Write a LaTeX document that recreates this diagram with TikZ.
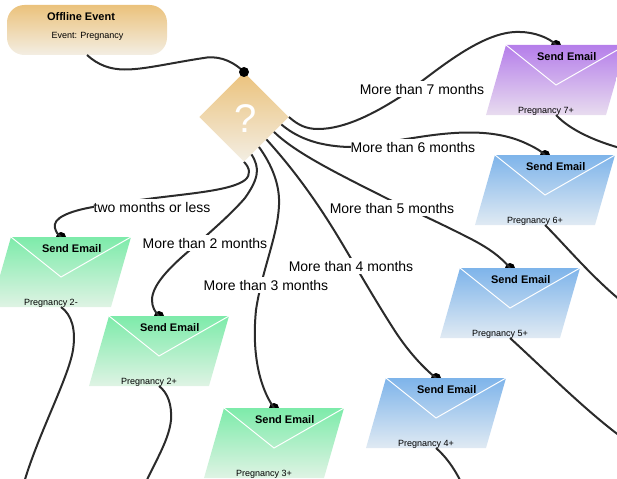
\documentclass[tikz,border=0pt]{standalone}
\usepackage{fontspec}
\setmainfont{Liberation Sans}
\usetikzlibrary{shapes.geometric,calc}
\definecolor{lineC}{HTML}{2B2B2B}
\definecolor{orT}{HTML}{EBC27C}
\definecolor{orB}{HTML}{F3EEE3}
\definecolor{grT}{HTML}{7DEBAA}
\definecolor{grB}{HTML}{DFF3E4}
\definecolor{blT}{HTML}{7EB4EA}
\definecolor{blB}{HTML}{E0EAF3}
\definecolor{puT}{HTML}{B57EEA}
\definecolor{puB}{HTML}{E8DCEF}
\tikzset{
  conn/.style={draw=lineC,line width=1.5pt},
  portdot/.style={circle,fill=black,inner sep=0pt,minimum size=7.5pt},
  grenv/.style={top color=grT,bottom color=grB},
  blenv/.style={top color=blT,bottom color=blB},
  puenv/.style={top color=puT,bottom color=puB},
  titletext/.style={font=\bfseries\fontsize{8.25pt}{10pt}\selectfont,inner sep=0pt},
  smalltext/.style={font=\fontsize{6.75pt}{8pt}\selectfont,inner sep=0pt},
  edgelabel/.style={fill=white,font=\fontsize{10.5pt}{12pt}\selectfont,inner sep=0pt,minimum height=12.5pt,text depth=0pt}
}
\newcommand{\mailport}[3]{\node[portdot] (#1in) at (#2+50,#3) {};}
\newcommand{\mailbody}[5]{%
  \begin{scope}[shift={(#2,#3)}]
    \path[#4] (0,0) -- (120,0) -- (100,70) -- (-20,70) -- cycle;
    \draw[white,line width=0.75pt] (0,0) -- (50,40) -- (120,0);
    \node[titletext] (#1t) at (60.7,12) {Send Email};
    \node[smalltext] (#1l) at (40,66) {#5};
    \coordinate (#1out) at (50,70);
  \end{scope}}
\begin{document}
\begin{tikzpicture}[x=0.75pt,y=-0.75pt]
\useasboundingbox (0,0) rectangle (617,478);
\clip (0,0) rectangle (617,478);
% start
\node[minimum width=120pt,minimum height=37.5pt,rounded corners=13pt,top color=orT,bottom color=orB,inner sep=0pt] (start) at (87,30) {};
\node[titletext] (startt) at (81,17) {Offline Event};
\node[smalltext] (startl) at (87.5,36) {Event: Pregnancy};
\coordinate (startout) at (87,55);
% diamond
\node[diamond,aspect=1,minimum width=67pt,minimum height=67pt,inner sep=0pt,top color=orT,bottom color=orB] (dmd) at (244,117) {};
\node[text=white,font=\fontsize{30pt}{30pt}\selectfont,inner sep=0pt] (qm) at (246,119) {?};
\coordinate (x7) at (dmd.east);
\coordinate (x6) at ($(dmd.east)!0.167!(dmd.south)$);
\coordinate (x5) at ($(dmd.east)!0.333!(dmd.south)$);
\coordinate (x4) at ($(dmd.east)!0.5!(dmd.south)$);
\coordinate (x3) at ($(dmd.east)!0.667!(dmd.south)$);
\coordinate (x2) at ($(dmd.east)!0.833!(dmd.south)$);
\coordinate (x1) at (dmd.south);
\coordinate (dmdin) at (244,72);
% ports first, bodies cover their lower half
\mailport{a}{11}{237}
\mailport{b}{109}{316}
\mailport{c}{224}{408}
\mailport{d}{386}{378}
\mailport{e}{460}{268}
\mailport{f}{495}{155}
\mailport{g}{506}{45}
% connectors in
\draw[conn] (startout) .. controls (98,65) and (110,69.5) .. (125,69.5) .. controls (145,69.5) and (170,63) .. (207,57.5) .. controls (222,56) and (235,63) .. (dmdin);
\draw[conn] (x7) .. controls (298,125) and (306,129) .. (318,129) .. controls (345,129) and (375,113) .. (400,97) .. controls (430,77) and (480,30) .. (520,32) .. controls (534,32) and (550,38) .. (gin.center);
\draw[conn] (x6) .. controls (295,136) and (315,146) .. (349,147) .. controls (370,147) and (390,141) .. (413,138) .. controls (450,132) and (490,128) .. (523,142) .. controls (532,146) and (540,150) .. (fin.center);
\draw[conn] (x5) .. controls (295,152) and (330,170) .. (390,200) .. controls (420,214) and (450,228) .. (473,240) .. controls (488,248) and (500,256) .. (ein.center);
\draw[conn] (x4) .. controls (285,160) and (310,190) .. (340,240) .. controls (355,265) and (375,300) .. (393,328) .. controls (405,347) and (420,365) .. (din.center);
\draw[conn] (x3) .. controls (272,165) and (280,185) .. (279,205) .. controls (278,235) and (262,270) .. (256,310) .. controls (252,350) and (258,385) .. (cin.center);
\draw[conn] (x2) .. controls (260,168) and (259,178) .. (245,198) .. controls (232,213) and (215,228) .. (190,250) .. controls (170,267) and (152,285) .. (152,300) .. controls (152,307) and (155,312) .. (bin.center);
\draw[conn] (x1) .. controls (250,168) and (251,175) .. (245,180) .. controls (232,190) and (195,193) .. (155,198) .. controls (125,202) and (93,206) .. (93,207) .. controls (70,211) and (52,218) .. (55,228) .. controls (56,232) and (58,235) .. (ain.center);
% bodies
\mailbody{a}{11}{237}{grenv}{Pregnancy 2-}
\mailbody{b}{109}{316}{grenv}{Pregnancy 2+}
\mailbody{c}{224}{408}{grenv}{Pregnancy 3+}
\mailbody{d}{386}{378}{blenv}{Pregnancy 4+}
\mailbody{e}{460}{268}{blenv}{Pregnancy 5+}
\mailbody{f}{495}{155}{blenv}{Pregnancy 6+}
\mailbody{g}{506}{45}{puenv}{Pregnancy 7+}
\node[portdot] (dmddot) at (dmdin) {};
% connectors out, ending beyond the page
\coordinate (aend) at (22,490);
\coordinate (bend) at (146,482);
\coordinate (dend) at (461,482);
\coordinate (eend) at (620,436);
\coordinate (fend) at (620,300);
\coordinate (gend) at (620,148);
\draw[conn] (aout) .. controls (72,315) and (76,330) .. (73,350) .. controls (68,380) and (35,440) .. (aend);
\draw[conn] (bout) .. controls (168,393) and (172,405) .. (171,420) .. controls (169,440) and (155,462) .. (bend);
\draw[conn] (dout) .. controls (445,456) and (453,466) .. (dend);
\draw[conn] (eout) .. controls (545,370) and (585,410) .. (eend);
\draw[conn] (fout) .. controls (565,245) and (590,275) .. (fend);
\draw[conn] (gout) .. controls (570,130) and (595,141) .. (gend);
% labels
\node[edgelabel] (l1) at (152,207) {two months or less};
\node[edgelabel] (l2) at (205,243) {More than 2 months};
\node[edgelabel] (l3) at (266,285) {More than 3 months};
\node[edgelabel] (l4) at (351,266) {More than 4 months};
\node[edgelabel] (l5) at (392,208) {More than 5 months};
\node[edgelabel] (l6) at (413,147) {More than 6 months};
\node[edgelabel] (l7) at (422,89) {More than 7 months};
\end{tikzpicture}
\end{document}
